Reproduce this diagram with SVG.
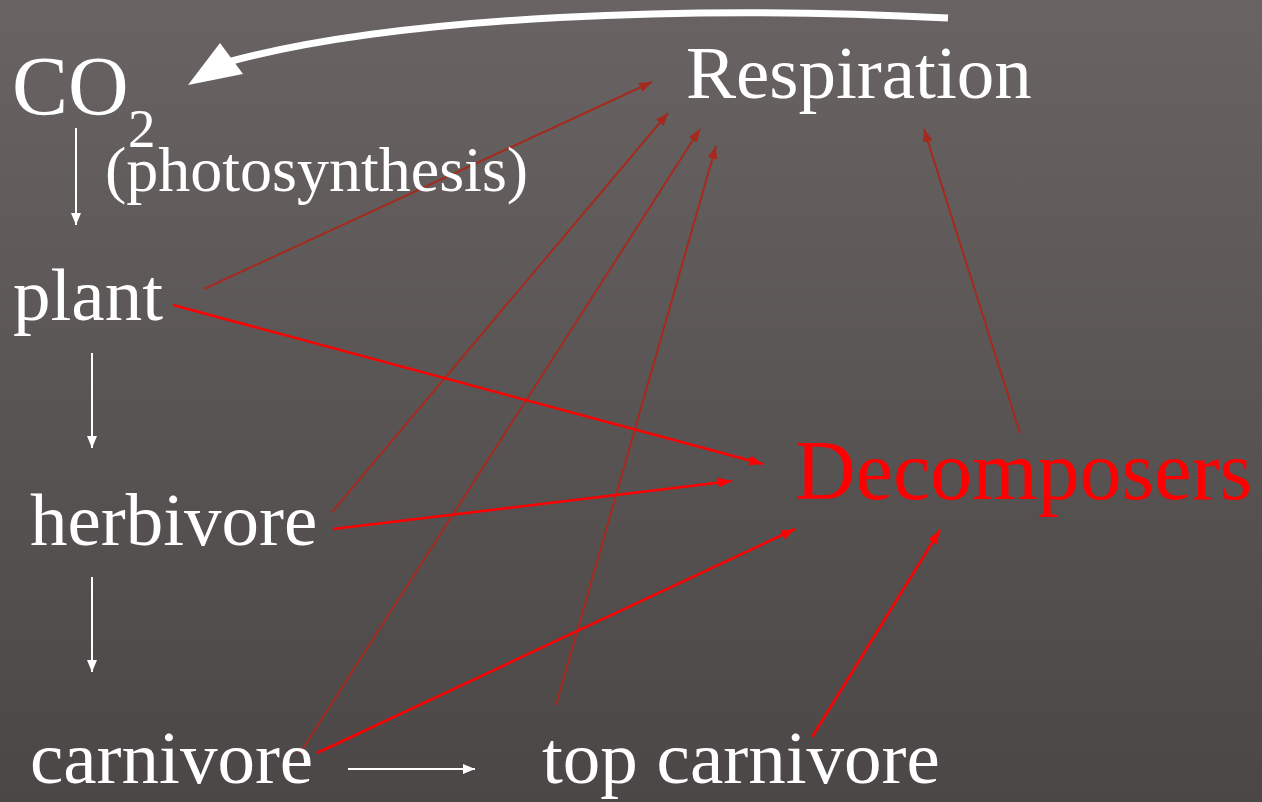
<svg xmlns="http://www.w3.org/2000/svg" width="1262" height="802" viewBox="0 0 1262 802">
  <defs>
    <linearGradient id="bg" x1="0" y1="0" x2="0" y2="1">
      <stop offset="0" stop-color="#696363"/>
      <stop offset="1" stop-color="#4b4747"/>
    </linearGradient>
    <marker id="mWhite" markerUnits="userSpaceOnUse" viewBox="0 0 12 10" refX="12" refY="5" markerWidth="12" markerHeight="10" orient="auto">
      <path d="M0,0 L12,5 L0,10 Z" fill="#ffffff"/>
    </marker>
    <marker id="mDark" markerUnits="userSpaceOnUse" viewBox="0 0 13 10" refX="13" refY="5" markerWidth="13" markerHeight="10" orient="auto">
      <path d="M0,0 L13,5 L0,10 Z" fill="#a52a1e"/>
    </marker>
    <marker id="mRed" markerUnits="userSpaceOnUse" viewBox="0 0 14 10" refX="14" refY="5" markerWidth="14" markerHeight="10" orient="auto">
      <path d="M0,0 L14,5 L0,10 Z" fill="#ff0000"/>
    </marker>
  </defs>
  <style>
    .t { font-family: "Liberation Serif", "Times New Roman", serif; fill: #ffffff; }
    .lbl { font-size: 75px; }
    .dec { font-family: "Liberation Serif", "Times New Roman", serif; fill: #ff0000; font-size: 84px; }
    .wl { stroke: #ffffff; stroke-width: 2; fill: none; marker-end: url(#mWhite); }
    .dl { stroke: #a52a1e; stroke-width: 2; fill: none; marker-end: url(#mDark); }
    .rl { stroke: #ff0000; stroke-width: 2.5; fill: none; marker-end: url(#mRed); }
  </style>
  <rect x="0" y="0" width="1262" height="802" fill="url(#bg)"/>

  <g id="connectors">
    <!-- big white cycle arrow -->
    <path d="M948,18 C700,5 400,15 228,62" stroke="#ffffff" stroke-width="7" fill="none"/>
    <polygon points="188,85 220,43 243,74" fill="#ffffff"/>
    <!-- food chain arrows -->
    <path class="wl" d="M76,128 L76,225"/>
    <path class="wl" d="M92,353 L92,448"/>
    <path class="wl" d="M92,577 L92,672"/>
    <path class="wl" d="M348,769 L475,769"/>
    <!-- respiration arrows -->
    <path class="dl" d="M204,289 L652,82"/>
    <path class="dl" d="M332,512 L668,113"/>
    <path class="dl" d="M300,753 L700,129"/>
    <path class="dl" d="M556,705 L716,146"/>
    <path class="dl" d="M1020,433 L924,129"/>
    <!-- decomposer arrows -->
    <path class="rl" d="M173,305 L763,464"/>
    <path class="rl" d="M333,529 L732,481"/>
    <path class="rl" d="M317,753 L795,529"/>
    <path class="rl" d="M812,737 L940,530"/>
  </g>

  <g id="co2">
    <text class="t" x="12" y="115" font-size="84">CO</text>
    <text class="t" x="128" y="147" font-size="55">2</text>
  </g>
  <g id="photosynthesis">
    <text class="t" x="105" y="191" font-size="64">(photosynthesis)</text>
  </g>
  <g id="respiration">
    <text class="t lbl" x="686" y="98">Respiration</text>
  </g>
  <g id="plant">
    <text class="t lbl" x="13" y="320">plant</text>
  </g>
  <g id="herbivore">
    <text class="t lbl" x="30" y="545">herbivore</text>
  </g>
  <g id="carnivore">
    <text class="t lbl" x="30" y="783">carnivore</text>
  </g>
  <g id="top-carnivore">
    <text class="t lbl" x="542" y="783">top carnivore</text>
  </g>
  <g id="decomposers">
    <text class="dec" x="795" y="499">Decomposers</text>
  </g>
</svg>
